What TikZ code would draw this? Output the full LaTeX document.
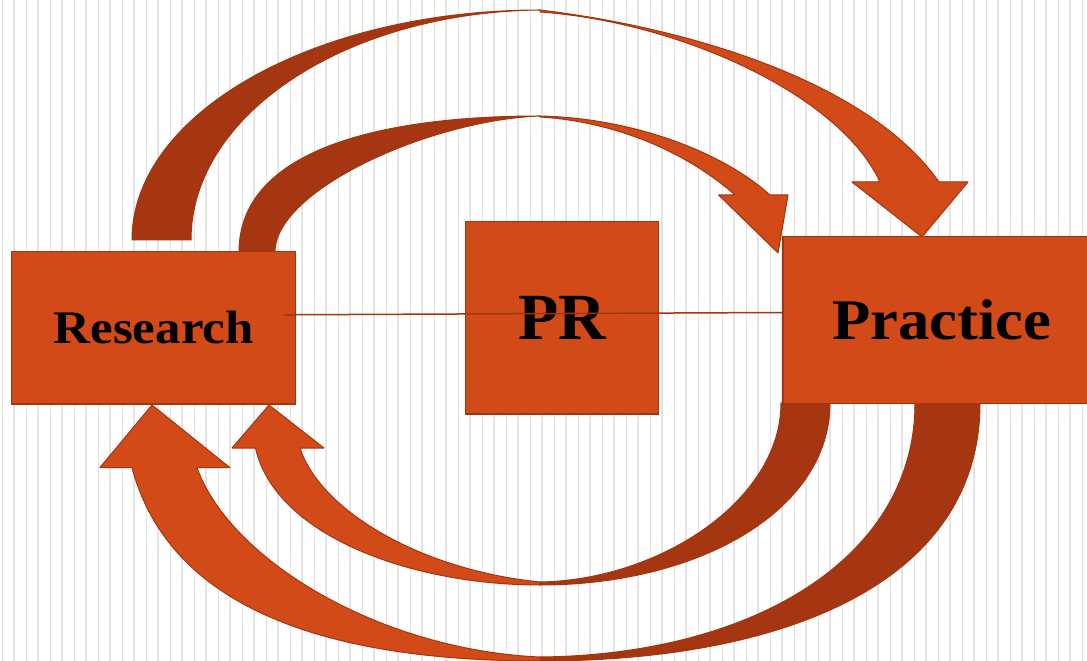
\documentclass[tikz,border=0pt]{standalone}
\usepackage{fontspec}
\setmainfont{Liberation Serif}
\newfontfamily\widefont[FakeStretch=1.09]{Liberation Serif}
\usepackage{tikz}

\definecolor{front}{HTML}{D14A18}
\definecolor{back}{HTML}{A53611}
\definecolor{rim}{HTML}{A3360F}
\definecolor{stripe}{HTML}{E3E3E3}

\begin{document}
\begin{tikzpicture}[x=0.2mm, y=-0.2mm,
	block/.style={rectangle, fill=front, draw=rim, line width=0.25mm, inner sep=0pt},
	arrow_front/.style={fill=front, draw=rim, line width=0.2mm, line join=round},
	arrow_back/.style={fill=back, draw=rim, line width=0.2mm, line join=round},
	link/.style={draw=rim, line width=0.3mm}]
				\clip (0,0) rectangle (1087,661);
				\fill[white] (0,0) rectangle (1087,661);
				\foreach \k in {0,...,45} {
					\draw[stripe, line width=0.2mm] (2.3+24*\k,0) -- (2.3+24*\k,661);
					\draw[stripe, line width=0.4mm] (14+24*\k,0) -- (14+24*\k,661);
				}
				
				% outer top arrow
				\path[arrow_back] (132,240) .. controls (132,113) and (315,10) .. (540,10)
				.. controls (347,12) and (191,114) .. (191,240) -- cycle;
				\path[arrow_front] (540,10) .. controls (690,28) and (869,82) .. (939,182)
				-- (968,182) -- (922,237) -- (852,182) -- (880,182)
				.. controls (840,95) and (680,22) .. (540,12) -- cycle;
				% inner top arrow
				\path[arrow_back] (239,252) .. controls (239,150) and (380,116) .. (540,116)
				.. controls (430,120) and (275,190) .. (275,252) -- cycle;
				\path[arrow_front] (540,116) .. controls (630,118) and (720,150) .. (770,195)
				-- (788,195) -- (778,253) -- (718.6,195) -- (735,195)
				.. controls (690,155) and (620,122) .. (540,117) -- cycle;
				% inner bottom arrow
				\path[arrow_back] (830,403) .. controls (830,510) and (700,585) .. (540,585)
				-- (540,582) .. controls (660,580) and (781,500) .. (781,403) -- cycle;
				\path[arrow_front] (540,585) .. controls (410,585) and (275,535) .. (255.5,448)
				-- (232,448) -- (269,405) -- (324,448) -- (300,448)
				.. controls (320,510) and (420,570) .. (540,582) -- cycle;
				% outer bottom arrow
				\path[arrow_back] (980,403) .. controls (980,580) and (790,661) .. (540,661)
				-- (540,657) .. controls (750,655) and (915,560) .. (915,403) -- cycle;
				\path[arrow_front] (540,661) .. controls (330,661) and (170,610) .. (132,467.7)
				-- (99.8,467.7) -- (152,405) -- (230,467.7) -- (197,467.7)
				.. controls (230,560) and (380,650) .. (540,657) -- cycle;
				
				\node[block, minimum width=56.82mm, minimum height=30.46mm] (research) at (153.7,327.8)
				{\fontsize{26.6pt}{30pt}\widefont\bfseries Research};
				\node[block, minimum width=38.68mm, minimum height=38.46mm] (pr) at (562,317.9)
				{\fontsize{37.5pt}{40pt}\selectfont\bfseries PR};
				\node[block, minimum width=63.6mm, minimum height=33.32mm] (practice) at (942,320)
				{\fontsize{32.7pt}{36pt}\widefont\bfseries Practice};
				
				\draw[link] ([shift={(-12,-13)}]research.east) -- ([shift={(0,-7.5)}]practice.west);
			\end{tikzpicture}
\end{document}
